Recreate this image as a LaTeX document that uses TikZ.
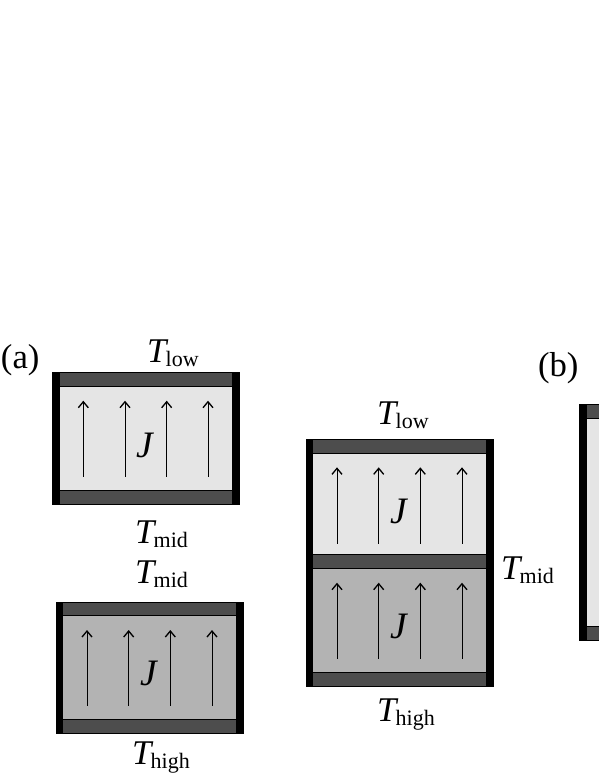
\documentclass[tikz,border=0pt]{standalone}
\usepackage{fontspec}
\setmainfont{Liberation Serif}
\usetikzlibrary{arrows.meta}
\definecolor{lightfill}{HTML}{E5E5E5}
\definecolor{darkfill}{HTML}{B3B3B3}
\definecolor{platefill}{HTML}{4D4D4D}
\newcommand{\bigfont}{\fontsize{26pt}{28pt}\selectfont}
\newcommand{\jfont}{\fontsize{28pt}{30pt}\selectfont}
\newcommand{\subfont}{\fontsize{16.5pt}{18pt}\selectfont}
\newcommand{\Tlab}[1]{{\bigfont\textit{T}}\kern-2pt\raisebox{-3pt}{\subfont #1}}
\tikzset{
  x=0.75pt,y=-0.75pt,
  lab/.style={anchor=base west,inner sep=0pt,outer sep=0pt,font=\bigfont},
  jlab/.style={anchor=base west,inner sep=0pt,outer sep=0pt,font=\jfont\itshape},
  plate/.style={fill=platefill,draw=black,line width=0.6pt},
  wall/.style={fill=black,draw=none},
  flow/.style={draw=black,line width=0.75pt,-{Straight Barb[length=4.5pt,width=7.5pt,line width=1pt]}}
}
\begin{document}
\begin{tikzpicture}
\useasboundingbox (0,0) rectangle (599,776);
% box 1
\fill[lightfill] (59,386) rectangle (232,490);
\draw[plate] (52,372.5) rectangle (239.5,386.5);
\draw[plate] (52,490) rectangle (239.5,504);
\fill[wall] (52,372) rectangle (59.5,504.5);
\fill[wall] (232,372) rectangle (239.5,504.5);
\foreach \x in {83.3,125,166.7,208}
  \draw[flow] (\x,476.7) -- (\x,400.7);
% box 2
\fill[darkfill] (63,615) rectangle (236,719);
\draw[plate] (56,602) rectangle (243.5,615.7);
\draw[plate] (56,719) rectangle (243.5,733);
\fill[wall] (55.7,601.7) rectangle (63.2,733.5);
\fill[wall] (236,601.7) rectangle (243.7,733.5);
\foreach \x in {87,128.7,170.3,212}
  \draw[flow] (\x,705.7) -- (\x,630);
% box 3
\fill[lightfill] (313,453) rectangle (486,554);
\fill[darkfill] (313,568) rectangle (486,672.5);
\draw[plate] (306,439.5) rectangle (493.5,453.3);
\draw[plate] (306,554) rectangle (493.5,568.5);
\draw[plate] (306,672.5) rectangle (493.5,686);
\fill[wall] (305.7,439.2) rectangle (313.2,686.5);
\fill[wall] (486,439.2) rectangle (493.7,686.5);
\foreach \x in {337,378.7,420.3,462} {
  \draw[flow] (\x,543.7) -- (\x,467.3);
  \draw[flow] (\x,658.7) -- (\x,582.7);
}
% box 4, cut by the edge
\fill[lightfill] (587,418) rectangle (600,627);
\draw[plate] (580,404.3) rectangle (602,418.7);
\draw[plate] (580,626.7) rectangle (602,640.5);
\fill[wall] (579.3,404) rectangle (587,640.7);
% labels
\node[lab] (a) at (1,368) {(a)};
\node[lab] (b) at (538,376) {(b)};
\node[lab] (t1) at (147,362) {\Tlab{low}};
\node[lab] (t2) at (135,543) {\Tlab{mid}};
\node[lab] (t3) at (135,583) {\Tlab{mid}};
\node[lab] (t4) at (132,764) {\Tlab{high}};
\node[lab] (t5) at (377,424) {\Tlab{low}};
\node[lab] (t6) at (501,579) {\Tlab{mid}};
\node[lab] (t7) at (377,721) {\Tlab{high}};
\node[jlab] (j1) at (136,457) {J};
\node[jlab] (j2) at (140,685) {J};
\node[jlab] (j3) at (390,523) {J};
\node[jlab] (j4) at (390,638) {J};
\end{tikzpicture}
\end{document}
